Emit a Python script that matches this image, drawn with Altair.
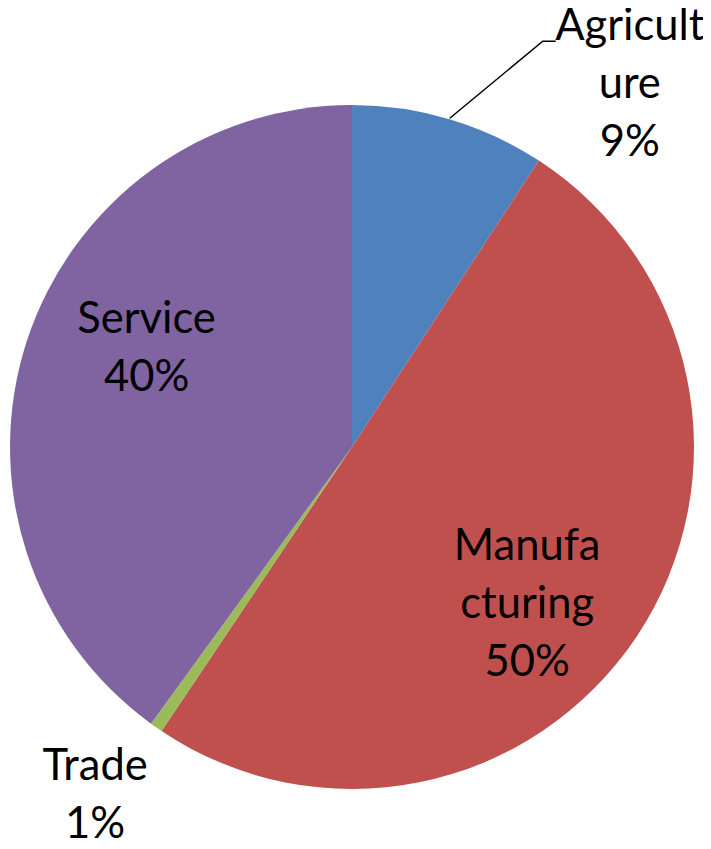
import math
import altair as alt
import pandas as pd

categories = ["Agriculture", "Manufacturing", "Trade", "Service"]
shares = [9.2, 50.2, 0.6, 40.0]
label_lines = [["Agricult", "ure", "9%"], ["Manufa", "cturing", "50%"], ["Trade", "1%"], ["Service", "40%"]]
colors = ["#4F81BD", "#C0504D", "#9BBB59", "#8064A2"]

W, H = 695, 833
CX, CY, R = 344, 439, 342
FONT = "Lato"
FS = 43.5
LH = 58

df = pd.DataFrame({
    "category": categories,
    "share": shares,
    "order": list(range(len(categories))),
    "label": ["\n".join(l) for l in label_lines],
})

color_scale = alt.Scale(domain=categories, range=colors)

pie = alt.Chart(df).mark_arc(outerRadius=R).encode(
    theta=alt.Theta("share:Q", stack=True),
    color=alt.Color("category:N", scale=color_scale, legend=None),
    order=alt.Order("order:Q"),
    x=alt.value(CX),
    y=alt.value(CY),
)

base_text = alt.Chart(df).transform_window(
    cum="sum(share)", sort=[alt.SortField("order")]
).transform_joinaggregate(
    total="sum(share)"
).transform_calculate(
    mid="(datum.cum - datum.share / 2) / datum.total * 2 * PI"
)

# per-label placement (radius, dx, dy of block centre)
placement = {
    "Agriculture": (378, 170, 0),
    "Manufacturing": (210, 0, 42),
    "Trade": (426, -13, 0),
    "Service": (216, 0, -31),
}

layers = [pie]
for cat, lines in zip(categories, label_lines):
    r, dx, dy = placement[cat]
    dy_first = dy - (len(lines) - 1) * LH / 2
    layers.append(
        base_text.transform_filter(alt.datum.category == cat).mark_text(
            font=FONT, fontSize=FS, lineBreak="\n", lineHeight=LH,
            align="center", baseline="middle", color="black", dx=dx, dy=dy_first,
        ).encode(
            theta=alt.Theta("mid:Q", scale=None),
            radius=alt.value(r),
            text="label:N",
            x=alt.value(CX),
            y=alt.value(CY),
        )
    )

# leader line for Agriculture label
a_mid = (shares[0] / 2) / sum(shares) * 2 * math.pi
sx = CX + (R + 1) * math.sin(a_mid)
sy = CY - (R + 1) * math.cos(a_mid)
leader = pd.DataFrame({
    "px": [sx, sx + 93, sx + 106],
    "py": [sy, sy - 77, sy - 77],
    "i": [0, 1, 2],
})
line = alt.Chart(leader).mark_line(color="black", strokeWidth=1.5).encode(
    x=alt.X("px:Q", scale=None),
    y=alt.Y("py:Q", scale=None),
    order="i:Q",
)
layers.append(line)

chart = alt.layer(*layers).properties(
    width=W, height=H, autosize=alt.AutoSizeParams(type="none"), padding=0
).configure_view(stroke=None)

chart.save("out.html", embed_options={"renderer": "svg", "actions": False})
